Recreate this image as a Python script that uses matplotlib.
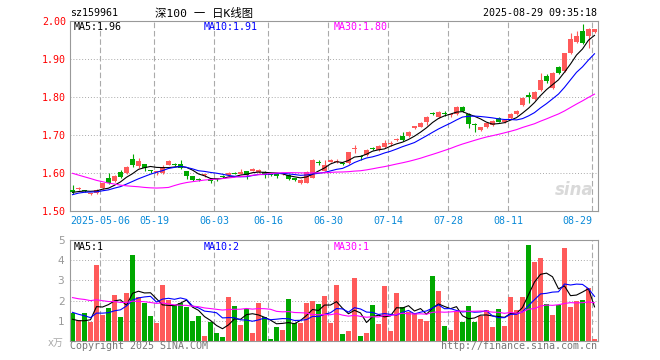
import math
import numpy as np
import matplotlib
matplotlib.use("Agg")
import matplotlib.pyplot as plt

# ---------------- data ----------------
symbol = "sz159961"
title = "深100 一 日K线图"
timestamp = "2025-08-29 09:35:18"

tick_index = [5, 14, 24, 33, 43, 53, 63, 73, 87]
tick_labels = ["2025-05-06", "05-19", "06-03", "06-16", "06-30",
               "07-14", "07-28", "08-11", "08-29"]

opens = [1.555, 1.558, 1.555, 1.544, 1.548, 1.560, 1.587, 1.580, 1.602, 1.600,
         1.638, 1.618, 1.624, 1.608, 1.603, 1.601, 1.622, 1.623, 1.625, 1.604,
         1.591, 1.584, 1.595, 1.583, 1.585, 1.592, 1.595, 1.600, 1.599, 1.604,
         1.606, 1.602, 1.602, 1.597, 1.597, 1.597, 1.595, 1.586, 1.575, 1.575,
         1.588, 1.630, 1.606, 1.630, 1.630, 1.627, 1.626, 1.664, 1.645, 1.647,
         1.666, 1.661, 1.669, 1.677, 1.688, 1.698, 1.698, 1.720, 1.722, 1.735,
         1.758, 1.748, 1.758, 1.752, 1.755, 1.774, 1.755, 1.729, 1.713, 1.720,
         1.726, 1.746, 1.733, 1.744, 1.755, 1.779, 1.804, 1.795, 1.818, 1.855,
         1.823, 1.880, 1.868, 1.916, 1.944, 1.974, 1.961, 1.971]
highs = [1.568, 1.564, 1.556, 1.548, 1.558, 1.575, 1.600, 1.595, 1.607, 1.618,
         1.650, 1.640, 1.625, 1.609, 1.606, 1.620, 1.633, 1.627, 1.635, 1.606,
         1.593, 1.587, 1.598, 1.585, 1.587, 1.594, 1.602, 1.602, 1.611, 1.606,
         1.612, 1.610, 1.604, 1.600, 1.599, 1.601, 1.597, 1.588, 1.583, 1.605,
         1.637, 1.633, 1.634, 1.636, 1.637, 1.629, 1.656, 1.674, 1.647, 1.662,
         1.669, 1.674, 1.687, 1.684, 1.693, 1.709, 1.710, 1.725, 1.733, 1.750,
         1.760, 1.763, 1.762, 1.758, 1.776, 1.777, 1.757, 1.731, 1.722, 1.734,
         1.739, 1.748, 1.741, 1.757, 1.766, 1.800, 1.814, 1.816, 1.862, 1.861,
         1.865, 1.882, 1.917, 1.968, 1.974, 1.992, 1.981, 1.980]
lows = [1.545, 1.556, 1.550, 1.541, 1.546, 1.558, 1.572, 1.577, 1.588, 1.597,
        1.616, 1.612, 1.605, 1.600, 1.594, 1.598, 1.620, 1.618, 1.610, 1.583,
        1.578, 1.579, 1.590, 1.575, 1.580, 1.587, 1.593, 1.597, 1.597, 1.584,
        1.604, 1.600, 1.586, 1.592, 1.588, 1.594, 1.582, 1.579, 1.571, 1.573,
        1.586, 1.621, 1.604, 1.628, 1.627, 1.622, 1.624, 1.652, 1.635, 1.645,
        1.661, 1.659, 1.667, 1.670, 1.683, 1.685, 1.696, 1.716, 1.720, 1.726,
        1.753, 1.745, 1.751, 1.747, 1.753, 1.760, 1.719, 1.709, 1.711, 1.718,
        1.724, 1.733, 1.731, 1.742, 1.753, 1.776, 1.783, 1.792, 1.815, 1.838,
        1.820, 1.860, 1.865, 1.913, 1.942, 1.939, 1.928, 1.968]
closes = [1.550, 1.561, 1.552, 1.546, 1.555, 1.573, 1.574, 1.591, 1.590, 1.616,
          1.620, 1.631, 1.613, 1.606, 1.604, 1.617, 1.631, 1.621, 1.614, 1.591,
          1.581, 1.581, 1.596, 1.579, 1.584, 1.589, 1.600, 1.599, 1.601, 1.594,
          1.610, 1.608, 1.596, 1.595, 1.591, 1.599, 1.584, 1.581, 1.581, 1.603,
          1.634, 1.627, 1.621, 1.634, 1.632, 1.624, 1.654, 1.666, 1.643, 1.660,
          1.664, 1.672, 1.678, 1.679, 1.690, 1.687, 1.707, 1.722, 1.731, 1.748,
          1.756, 1.761, 1.756, 1.754, 1.774, 1.763, 1.728, 1.727, 1.720, 1.731,
          1.737, 1.735, 1.739, 1.754, 1.763, 1.797, 1.799, 1.814, 1.845, 1.842,
          1.862, 1.863, 1.915, 1.952, 1.960, 1.942, 1.979, 1.978]
volumes = [1.38, 1.05, 1.38, 0.95, 3.75, 1.28, 1.65, 2.30, 1.20, 2.40,
           4.25, 2.17, 1.87, 1.25, 0.90, 2.75, 2.05, 1.80, 1.87, 1.67,
           1.00, 1.25, 0.25, 0.92, 0.42, 0.20, 2.20, 1.75, 0.80, 1.58,
           0.42, 1.90, 1.17, 0.10, 0.67, 0.52, 2.10, 0.90, 0.90, 1.90,
           2.00, 1.85, 2.25, 0.90, 2.75, 0.35, 0.50, 3.10, 0.25, 0.38,
           1.80, 0.85, 2.70, 0.50, 2.40, 1.70, 1.45, 1.38, 1.10, 1.00,
           3.20, 2.50, 0.75, 0.55, 1.50, 0.95, 1.75, 0.95, 1.25, 1.55,
           0.70, 1.60, 0.75, 2.20, 1.55, 2.20, 4.75, 3.90, 4.10, 1.85,
           1.30, 1.77, 4.60, 1.70, 2.00, 2.05, 2.60, 0.10]

# sessions before the visible window, estimated from where the MA lines start
prior_closes = [1.70, 1.69, 1.68, 1.70, 1.68, 1.68, 1.67, 1.675, 1.67, 1.66,
                1.665, 1.665, 1.64, 1.62, 1.60, 1.60, 1.47, 1.48, 1.49, 1.51,
                1.52, 1.53, 1.54, 1.55, 1.545, 1.55, 1.545, 1.55, 1.55]
prior_volumes = [2.8, 2.4, 2.7, 2.5, 2.6, 2.9, 2.4, 2.5, 2.4, 2.3,
                 2.5, 2.4, 2.4, 2.2, 2.0, 3.8, 3.0, 2.5, 1.8, 2.2,
                 2.0, 2.1, 1.9, 1.5, 1.3, 1.4, 1.4, 0.7, 0.5]

price_ticks = [1.50, 1.60, 1.70, 1.80, 1.90, 2.00]
volume_ticks = [1, 2, 3, 4, 5]
ma_windows = [5, 10, 30]
ma_colors = ["#000000", "#0000ff", "#ff00ff"]

# ---------------- styling ----------------
RED = "#ff5a5a"
GREEN = "#00a800"
GRID = "#aaaaaa"
FRAME = "#999999"
DATE_BLUE = "#0a8ad8"
MONO = ["DejaVu Sans Mono", "Noto Sans CJK SC"]
FS = 7.2

W, H = 660, 360
fig = plt.figure(figsize=(W / 100, H / 100), dpi=100)
fig.patch.set_facecolor("white")


def fx(px):
    return px / W


def fy(py):
    return 1 - py / H


L, R = 70, 598
ax1 = fig.add_axes([fx(L), fy(211), (R - L) / W, (211 - 21) / H])
ax2 = fig.add_axes([fx(L), fy(341), (R - L) / W, (341 - 240) / H])

n = len(closes)
x = np.arange(n)
bw = 5 / 6
xc = x + bw / 2

o = np.array(opens)
c = np.array(closes)
h = np.array(highs)
l = np.array(lows)
cols = np.where(c >= o, RED, GREEN)


def moving(prior, vals, w):
    arr = np.array(list(prior) + list(vals), dtype=float)
    k = len(prior)
    return np.array([arr[i - w + 1:i + 1].mean() for i in range(k, len(arr))])


for ax in (ax1, ax2):
    ax.set_xlim(0, n)
    for sp in ax.spines.values():
        sp.set_color(FRAME)
        sp.set_linewidth(0.8)
    ax.tick_params(length=0)
    ax.set_xticks([])
    for t in tick_index:
        ax.axvline(t, color=GRID, lw=0.8, dashes=(5, 2.5), zorder=0)

# ---- price panel ----
ax1.set_ylim(price_ticks[0], price_ticks[-1])
for v in price_ticks[1:-1]:
    ax1.axhline(v, color=GRID, lw=0.7, dashes=(1, 2), zorder=0)
ax1.vlines(xc, l, h, colors=cols, linewidth=0.8, zorder=2)
body_h = np.maximum(np.abs(c - o), 0.0028)
body_b = (o + c) / 2 - body_h / 2
ax1.bar(x, body_h, bottom=body_b, width=bw, align="edge", color=cols,
        linewidth=0, zorder=3)
price_ma = []
for w, col in zip(ma_windows, ma_colors):
    m = moving(prior_closes, closes, w)
    price_ma.append(m)
    ax1.plot(xc, m, color=col, lw=0.8, zorder=4)
ax1.set_yticks(price_ticks)
ax1.set_yticklabels(["%.2f" % v for v in price_ticks], color="#ff0000",
                    fontsize=FS, family=MONO)
ax1.tick_params(axis="y", pad=3)

for t, lab in zip(tick_index, tick_labels):
    ha = "right" if t == tick_index[-1] else "center"
    ax1.text(t, -0.053, lab, transform=ax1.get_xaxis_transform(), ha=ha,
             va="center", color=DATE_BLUE, fontsize=FS, family=MONO)

# sina watermark
ax1.text(0.955, 0.11, "sina", transform=ax1.transAxes, ha="center", va="center",
         fontsize=12, fontweight="bold", style="italic", color="#d9d9d9", zorder=1)

# ---- volume panel ----
ax2.set_ylim(0, volume_ticks[-1])
for v in volume_ticks[:-1]:
    ax2.axhline(v, color=GRID, lw=0.7, dashes=(1, 2), zorder=0)
ax2.bar(x, volumes, width=bw, align="edge", color=cols, linewidth=0, zorder=2)
vol_ma = []
for w, col in zip(ma_windows, ma_colors):
    m = moving(prior_volumes, volumes, w)
    vol_ma.append(m)
    ax2.plot(xc, m, color=col, lw=0.8, zorder=4)
ax2.set_yticks(volume_ticks)
ax2.set_yticklabels([str(v) for v in volume_ticks], color="#999999",
                    fontsize=FS + 0.5)
ax2.tick_params(axis="y", pad=4)
fig.text(fx(64), fy(343), "x万", ha="right", va="center", color="#aaaaaa",
         fontsize=FS, family=["DejaVu Sans", "Noto Sans CJK SC"])

# ---- legends ----
leg_x = [74, 204, 334]
for i, (w, col) in enumerate(zip(ma_windows, ma_colors)):
    pv = math.floor(price_ma[i][-1] * 100) / 100
    vv = int(math.floor(vol_ma[i][-1]))
    fig.text(fx(leg_x[i]), fy(26.5), "MA%d:%.2f" % (w, pv), color=col,
             fontsize=FS, family=MONO, va="center", ha="left")
    fig.text(fx(leg_x[i]), fy(246.5), "MA%d:%d" % (w, vv), color=col,
             fontsize=FS, family=MONO, va="center", ha="left")

# ---- header / footer ----
fig.text(fx(70), fy(13), symbol, fontsize=FS, family=MONO, va="center", ha="left")
fig.text(fx(204), fy(13), title, fontsize=FS + 1, family=MONO, va="center",
         ha="center")
fig.text(fx(597), fy(13), timestamp, fontsize=FS, family=MONO, va="center",
         ha="right")
fig.text(fx(70), fy(346), "Copyright 2025 SINA.COM", fontsize=FS, family=MONO,
         va="center", ha="left", color="#777777")
fig.text(fx(597), fy(346), "http://finance.sina.com.cn", fontsize=FS, family=MONO,
         va="center", ha="right", color="#777777")

fig.savefig("out.png", dpi=100, facecolor="white")
